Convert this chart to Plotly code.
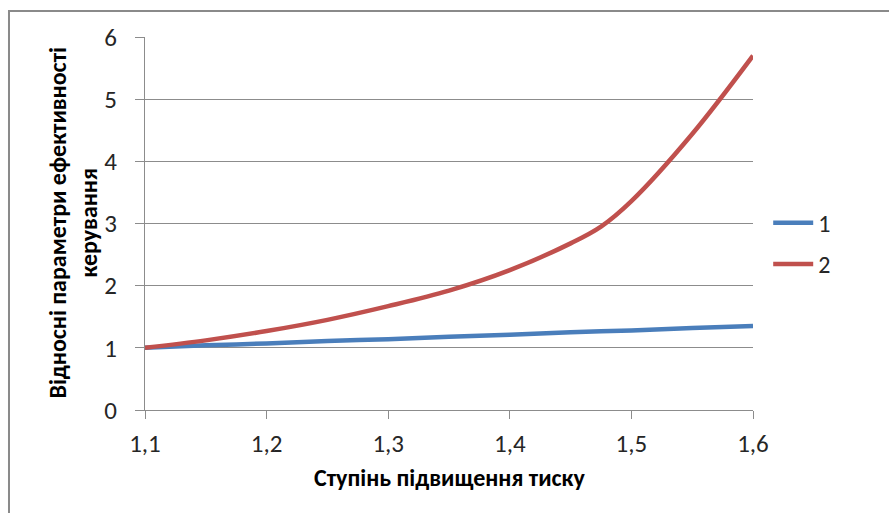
import plotly.graph_objects as go

# Pressure ratio (x) and relative control-efficiency parameters for two cases
pressure_ratio_1 = [1.10, 1.15, 1.20, 1.25, 1.30, 1.35, 1.40, 1.45, 1.50, 1.55, 1.60]
efficiency_1 = [1.00, 1.04, 1.07, 1.11, 1.14, 1.18, 1.21, 1.25, 1.28, 1.32, 1.35]

pressure_ratio_2 = [1.10, 1.15, 1.20, 1.25, 1.30, 1.35, 1.40, 1.45, 1.475, 1.50, 1.55, 1.60]
efficiency_2 = [1.00, 1.12, 1.27, 1.45, 1.67, 1.92, 2.25, 2.68, 2.95, 3.36, 4.44, 5.70]

series_names = ["1", "2"]
x_ticks = [1.1, 1.2, 1.3, 1.4, 1.5, 1.6]
x_tick_labels = ["1,1", "1,2", "1,3", "1,4", "1,5", "1,6"]
y_ticks = [0, 1, 2, 3, 4, 5, 6]

x_title = "Ступінь підвищення тиску"
y_title_lines = ["Відносні параметри ефективності", "керування"]

FONT = "Carlito, Calibri, Lato, sans-serif"
GRID = "#8c8c8c"
TEXT = "#262626"

fig = go.Figure()
fig.add_trace(go.Scatter(
    x=pressure_ratio_1, y=efficiency_1, name=series_names[0], mode="lines",
    line=dict(color="#4a7ebb", width=4.5, shape="spline", smoothing=1),
    legendgroup="a",
))
fig.add_trace(go.Scatter(
    x=pressure_ratio_2, y=efficiency_2, name=series_names[1], mode="lines",
    line=dict(color="#c0504d", width=4.5, shape="spline", smoothing=1),
    legendgroup="b",
))

fig.update_layout(
    width=889, height=513,
    margin=dict(l=145, r=136, t=37, b=103),
    paper_bgcolor="white", plot_bgcolor="white",
    font=dict(family=FONT, size=22, color=TEXT),
    showlegend=True,
    legend=dict(
        x=1.025, y=0.446, xanchor="left", yanchor="middle",
        font=dict(family=FONT, size=24, color=TEXT),
        tracegroupgap=7, bgcolor="rgba(0,0,0,0)",
        itemwidth=40,
    ),
)

fig.update_xaxes(
    range=[1.1, 1.6], tickvals=x_ticks, ticktext=x_tick_labels,
    showgrid=False, zeroline=False,
    showline=True, linecolor=GRID, linewidth=1,
    ticks="outside", ticklen=8, tickcolor=GRID, tickwidth=1,
    ticklabelstandoff=3,
    tickfont=dict(family=FONT, size=25, color=TEXT),
)
fig.update_yaxes(
    range=[0, 6], tickvals=y_ticks,
    showgrid=True, gridcolor=GRID, gridwidth=1, zeroline=False,
    showline=True, linecolor=GRID, linewidth=1,
    ticks="outside", ticklen=9, tickcolor=GRID, tickwidth=1,
    ticklabelstandoff=13,
    tickfont=dict(family=FONT, size=25, color=TEXT),
)

# Axis titles
fig.add_annotation(
    text=x_title, xref="paper", yref="paper", x=0.5, y=-0.181,
    xanchor="center", yanchor="middle", showarrow=False,
    font=dict(family=FONT, size=24, color="#000000", weight="bold"),
)
for xpos, line in zip([-0.1447, -0.0937], y_title_lines):
    fig.add_annotation(
        text=line, xref="paper", yref="paper", x=xpos, y=0.5,
        xanchor="center", yanchor="middle", textangle=-90, showarrow=False,
        font=dict(family=FONT, size=24, color="#000000", weight="bold"),
    )

# Chart-area frame
fig.add_shape(
    type="rect", xref="paper", yref="paper",
    x0=-0.2237, y0=-0.3, x1=1.25, y1=1.0697,
    line=dict(color="#8a8a8a", width=2), fillcolor="rgba(0,0,0,0)", layer="below",
)

fig.write_html("out.html")
